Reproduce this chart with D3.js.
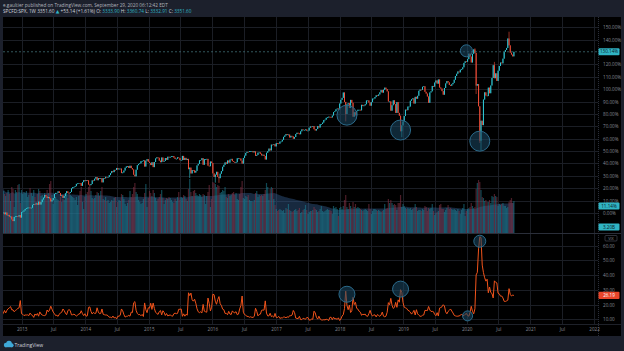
<!DOCTYPE html>
<html>
<head>
<meta charset="utf-8">
<script src="https://cdn.jsdelivr.net/npm/d3@7"></script>
<style>
html, body { margin: 0; padding: 0; background: #1c202c; }
svg { display: block; }
text { font-family: "Open Sans", "DejaVu Sans", sans-serif; }
</style>
</head>
<body>
<svg id="chart" width="624" height="351"></svg>
<script>
// weekly closes of SPX, one array per calendar year (last bar = week of Sep 28 2020)
const spx2012 = [1456,1460,1441,1461,1429,1433,1412,1414,1380,1360,1409,1416,1418,1414,1430,1402];
const spx2013 = [1466,1472,1486,1503,1513,1518,1520,1516,1518,1551,1561,1557,1569,1553,1589,1555,1583,1614,1634,1667,1650,1631,1643,1627,1592,1606,1632,1680,1692,1692,1710,1691,1656,1663,1633,1655,1688,1710,1692,1690,1703,1745,1760,1762,1771,1798,1804,1806,1805,1775,1818,1841];
const spx2014 = [1831,1842,1839,1790,1783,1797,1839,1836,1859,1878,1841,1866,1858,1865,1816,1865,1863,1881,1878,1878,1901,1924,1949,1936,1963,1961,1985,1968,1978,1978,1925,1932,1955,1988,2003,2008,1985,2011,1983,1968,1906,1887,1965,2018,2032,2040,2064,2068,2075,2002,2071,2089];
const spx2015 = [2058,2045,2019,2052,1995,2055,2097,2110,2105,2071,2053,2108,2061,2067,2102,2081,2117,2108,2116,2123,2126,2107,2092,2094,2110,2101,2077,2077,2127,2079,2104,2078,2092,1971,1989,1921,1961,1958,1931,1951,2015,2033,2075,2079,2100,2023,2089,2090,2092,2012,2006,2061];
const spx2016 = [2044,1922,1880,1907,1940,1880,1865,1918,1948,1999,2022,2050,2035,2073,2048,2083,2092,2065,2057,2047,2053,2099,2099,2096,2071,2037,2103,2130,2162,2175,2174,2183,2184,2184,2169,2180,2128,2139,2165,2168,2153,2133,2141,2126,2085,2164,2182,2213,2192,2260,2259,2264,2239];
const spx2017 = [2277,2275,2271,2295,2297,2316,2351,2367,2384,2373,2378,2344,2363,2356,2329,2349,2384,2399,2391,2382,2416,2439,2432,2433,2438,2423,2425,2459,2473,2472,2477,2441,2426,2443,2477,2461,2500,2502,2519,2549,2553,2575,2581,2588,2582,2579,2602,2642,2652,2675,2684,2674];
const spx2018 = [2743,2786,2810,2873,2762,2620,2732,2747,2691,2786,2752,2588,2641,2604,2656,2670,2670,2663,2728,2713,2721,2735,2779,2780,2755,2718,2760,2801,2802,2819,2840,2833,2850,2875,2902,2872,2905,2930,2914,2886,2767,2768,2659,2723,2781,2736,2633,2760,2633,2600,2417,2486];
const spx2019 = [2532,2596,2671,2665,2707,2708,2776,2793,2804,2743,2822,2800,2834,2893,2907,2905,2940,2946,2881,2860,2826,2752,2873,2887,2950,2942,2990,3014,2977,3026,2932,2919,2889,2847,2926,2979,3007,2992,2962,2952,2970,2986,3023,3067,3093,3120,3110,3141,3146,3169,3221,3240];
const spx2020 = [3235,3265,3330,3295,3226,3328,3380,3338,2954,2972,2711,2305,2541,2489,2790,2875,2837,2831,2930,2864,2955,3044,3194,3041,3098,3009,3130,3185,3225,3216,3271,3351,3373,3397,3508,3427,3341,3319,3298,3352];

// weeks where the high / low wick reaches well past the body
const wicks = [
  { week: "2015-08-24", low: 1867 },
  { week: "2016-01-18", low: 1812 },
  { week: "2016-02-08", low: 1810 },
  { week: "2018-02-05", low: 2533 },
  { week: "2018-12-24", low: 2347 },
  { week: "2020-02-17", high: 3393 },
  { week: "2020-02-24", low: 2855 },
  { week: "2020-03-16", low: 2280 },
  { week: "2020-03-23", low: 2192 },
  { week: "2020-06-08", high: 3233 },
  { week: "2020-08-31", high: 3588 }
];

// weekly volume, billions
const vol2012 = [4.6,4.2,3.9,3.7,4.0,4.3,3.9,3.2,4.6,4.4,2.6,4.3,4.1,4.8,4.9,3.0];
const vol2013 = [4.3,3.9,4.1,4.0,4.2,3.6,3.8,4.5,4.0,3.7,4.3,3.6,3.1,3.9,4.4,4.2,3.7,3.8,3.6,4.0,3.5,4.3,4.0,4.9,5.2,3.8,2.9,3.5,3.6,3.4,3.3,3.2,3.6,3.1,3.4,3.3,3.9,4.2,3.5,4.0,3.8,3.7,3.6,3.5,3.3,3.6,2.8,3.7,4.2,4.6,3.1,2.4];
const vol2014 = [3.6,3.9,4.1,4.6,4.8,4.2,3.5,3.4,3.5,3.8,4.1,4.0,3.7,4.2,4.6,3.4,3.3,3.6,3.2,3.3,3.0,3.1,3.3,3.2,3.5,3.6,2.6,3.1,3.3,3.2,3.9,3.8,3.4,2.9,2.7,3.0,3.3,4.2,3.6,3.9,4.6,5.0,4.1,3.9,3.3,3.1,2.9,3.0,3.4,4.0,4.9,2.6];
const vol2015 = [3.5,4.2,4.0,3.7,4.3,4.0,3.5,3.2,3.4,3.6,3.9,4.3,3.5,2.9,3.3,3.5,3.4,3.6,3.5,3.3,3.1,3.0,3.4,3.2,3.6,4.1,3.3,3.6,3.5,3.8,3.7,3.4,3.2,4.4,5.4,4.1,3.7,4.2,4.3,4.0,3.8,3.7,3.9,3.8,3.6,3.9,3.8,2.9,3.7,4.1,4.8,2.6];
const vol2016 = [3.4,5.1,5.0,4.9,4.6,4.8,4.7,4.0,4.1,4.3,4.2,4.6,3.6,3.5,3.9,3.7,3.8,4.0,4.1,3.8,4.0,3.4,3.3,3.9,4.6,5.2,3.5,3.4,3.7,3.6,3.8,3.3,3.2,3.2,3.1,3.3,4.0,4.2,3.6,3.8,3.7,3.8,3.7,3.9,4.3,5.0,4.6,3.3,4.4,4.6,4.5,3.4,2.8];
const vol2017 = [2.4,2.2,2.3,2.4,2.3,2.2,2.3,2.0,2.5,2.4,2.9,2.3,2.2,2.1,2.2,2.3,2.4,2.2,2.3,2.5,2.0,2.1,2.3,2.4,2.8,2.3,1.9,2.1,2.2,2.2,2.3,2.6,2.4,2.3,2.1,2.2,2.4,2.7,2.2,2.1,2.2,2.3,2.4,2.3,2.3,2.2,1.9,2.7,2.5,2.6,2.4,1.7];
const vol2018 = [2.5,2.6,2.4,2.7,3.3,3.8,2.6,2.4,3.0,2.7,2.5,3.1,2.6,2.9,2.5,2.6,2.5,2.4,2.3,2.2,2.3,2.4,2.3,2.2,2.9,2.4,1.9,2.2,2.4,2.4,2.3,2.2,2.3,2.2,2.1,2.2,2.3,2.9,2.4,2.5,3.4,3.0,3.3,3.0,2.8,2.9,2.8,2.3,3.0,3.0,3.8,2.6];
const vol2019 = [2.9,2.7,2.5,2.4,2.5,2.4,2.5,2.3,2.4,2.5,2.9,2.6,2.2,2.3,2.3,2.2,2.4,2.3,2.7,2.6,2.2,2.5,2.4,2.5,2.9,2.2,1.8,2.0,2.1,2.2,2.8,2.9,2.4,2.4,2.1,2.3,2.5,2.8,2.4,2.5,2.4,2.3,2.4,2.3,2.2,2.4,2.2,1.9,2.3,2.5,2.9,1.7];
const vol2020 = [2.2,2.4,2.5,2.6,3.0,2.7,2.5,2.6,4.4,5.0,5.3,5.1,4.3,3.6,3.5,3.2,3.3,3.1,3.1,3.3,3.0,3.7,3.6,3.9,3.7,3.6,2.7,2.9,2.8,2.9,3.0,2.7,2.7,2.5,2.6,3.1,3.3,3.5,3.0,3.2];

// weekly closes of VIX (lower pane)
const vix2012 = [14.6,13.9,16.0,14.3,16.1,17.1,17.8,18.6,16.4,16.4,15.1,16.0,16.6,17.4,17.8,22.7];
const vix2013 = [13.8,13.4,12.5,12.9,12.9,13.0,12.5,14.2,13.1,12.6,11.3,13.6,12.7,13.9,12.1,15.0,13.6,12.9,12.6,12.5,13.0,16.3,15.1,16.3,18.9,16.9,14.9,13.8,12.5,12.7,12.0,13.4,14.4,14.8,17.0,15.9,14.2,13.1,15.7,16.7,15.7,13.0,13.1,13.5,12.9,12.2,12.7,13.7,13.8,15.8,13.8,12.5];
const vix2014 = [13.8,12.1,12.4,18.1,18.4,15.3,13.6,14.7,14.0,14.1,17.8,15.0,13.8,14.0,17.0,13.4,13.1,12.9,12.9,12.4,11.4,11.4,11.0,12.2,10.9,11.3,10.3,12.1,12.1,12.7,17.0,15.8,13.2,11.5,12.0,12.1,12.7,12.1,14.9,14.6,21.2,22.0,16.1,14.0,13.1,13.3,12.4,13.3,11.9,21.1,16.5,14.5];
const vix2015 = [17.8,17.6,20.9,16.7,21.0,17.3,14.7,14.0,13.3,15.2,16.0,13.0,15.8,14.7,12.6,13.9,12.3,12.7,12.9,12.4,12.1,13.8,14.2,13.8,14.0,16.8,16.8,17.0,12.0,13.7,12.1,13.4,12.8,28.0,26.1,27.8,23.2,22.3,23.6,20.9,17.1,15.1,14.5,15.1,14.3,20.1,15.5,15.1,14.8,24.4,20.7,15.7];
const vix2016 = [18.2,27.0,26.7,22.3,20.2,23.4,25.4,20.5,19.4,16.9,16.5,14.0,14.0,13.1,15.4,13.6,13.2,15.7,14.7,14.4,15.2,13.1,13.5,17.0,19.4,25.8,14.8,13.2,12.7,12.0,11.9,11.4,11.7,11.3,11.3,12.0,17.5,15.4,12.3,13.3,13.5,16.1,16.3,16.2,22.5,14.2,12.3,12.3,14.1,11.8,12.2,11.4,14.0];
const vix2017 = [11.3,11.2,12.0,10.6,11.0,10.9,11.5,11.5,11.0,11.7,11.3,12.5,12.4,12.9,16.0,14.6,10.8,10.6,10.4,12.0,9.8,9.8,10.7,10.4,10.0,11.2,11.2,9.5,9.4,10.3,10.0,15.5,14.3,11.3,10.1,12.1,10.2,9.6,9.5,9.7,9.6,10.0,9.8,9.1,11.3,11.4,9.7,11.4,10.2,10.5,9.9,11.0];
const vix2018 = [9.2,10.2,12.2,13.1,17.3,29.1,19.5,16.5,19.6,14.6,15.8,24.9,20.0,21.5,17.4,16.9,15.4,14.8,12.7,13.4,13.2,13.5,12.2,12.0,13.8,16.1,13.4,12.2,12.9,13.0,11.6,13.2,12.6,12.0,12.9,14.9,12.1,11.7,12.1,14.8,21.3,19.9,24.2,19.5,17.4,18.1,21.5,18.1,23.2,21.6,30.1,28.3];
const vix2019 = [21.4,18.2,17.8,17.4,16.1,15.7,14.9,13.5,14.6,16.1,12.9,16.5,13.7,12.8,12.0,12.1,12.7,12.9,16.0,16.0,15.9,18.7,16.3,15.3,15.4,15.1,13.3,12.4,14.5,12.2,17.6,18.0,18.5,19.9,19.0,15.0,13.7,15.3,16.1,17.0,15.6,14.3,12.7,12.3,12.1,12.1,12.3,12.6,13.6,12.6,12.5,13.4];
const vix2020 = [14.0,12.6,12.1,14.6,18.8,15.5,13.7,17.1,40.1,41.9,57.8,66.0,65.5,46.8,41.7,38.2,35.9,37.2,28.0,31.9,28.2,27.5,24.5,36.1,35.1,34.7,27.7,27.3,25.7,25.8,24.5,22.2,22.1,22.5,23.0,30.8,26.9,25.8,26.4,26.2];

// axis ticks
const pctTicks = [0,10,20,30,40,50,60,70,80,90,100,110,120,140,150];
const vixTicks = [10,20,30,40,50,60];

// highlighted circles drawn on the chart
const priceCircles = [
  { week: "2018-02-12", pct: 79, r: 10 },
  { week: "2018-12-17", pct: 67, r: 10 },
  { week: "2020-03-16", pct: 58, r: 10 },
  { week: "2019-12-30", pct: 131, r: 6 }
];
const vixCircles = [
  { week: "2018-02-12", v: 27, r: 8 },
  { week: "2018-12-17", v: 30.5, r: 8 },
  { week: "2020-03-16", v: 63, r: 6 },
  { week: "2020-01-06", v: 12.3, r: 5 }
];

const spx = [...spx2012, ...spx2013, ...spx2014, ...spx2015, ...spx2016, ...spx2017, ...spx2018, ...spx2019, ...spx2020];
const volume = [...vol2012, ...vol2013, ...vol2014, ...vol2015, ...vol2016, ...vol2017, ...vol2018, ...vol2019, ...vol2020];
const vix = [...vix2012, ...vix2013, ...vix2014, ...vix2015, ...vix2016, ...vix2017, ...vix2018, ...vix2019, ...vix2020];

const parseDay = d3.timeParse("%Y-%m-%d");
const lastWeek = parseDay("2020-09-28");
const n = spx.length;
const base = spx[0];

const bars = spx.map((c, i) => {
  const open = i ? spx[i - 1] : c;
  return {
    date: d3.timeDay.offset(lastWeek, -7 * (n - 1 - i)),
    open: open, close: c,
    high: Math.max(open, c), low: Math.min(open, c),
    vol: volume[i], vix: vix[i]
  };
});
wicks.forEach(w => {
  const b = bars.find(b => +b.date === +parseDay(w.week));
  if (!b) return;
  if (w.high) b.high = w.high;
  if (w.low) b.low = w.low;
});
// 52 week average of volume
bars.forEach((b, i) => {
  b.ma = d3.mean(bars.slice(Math.max(0, i - 51), i + 1), d => d.vol);
});
const pct = v => (v / base - 1) * 100;

const svg = d3.select("#chart");
const plotL = 3, plotR = 598, plotT = 17, mainB = 233, lowT = 234, lowB = 324, axisB = 336;

const x = d3.scaleTime()
  .domain([new Date(2013, 0, 1), new Date(2022, 0, 1)])
  .range([21.7, 594]);
const yPct = d3.scaleLinear().domain([-16.2, 157.5]).range([mainB, 18]);
const yVol = d3.scaleLinear().domain([0, 6]).range([mainB, 173]);
const yVix = d3.scaleLinear().domain([6.8, 67.9]).range([lowB, lowT]);

// frame
svg.append("rect").attr("width", 624).attr("height", 351).attr("fill", "#1c202c");
svg.append("rect").attr("x", plotL).attr("y", plotT).attr("width", 621 - plotL).attr("height", axisB - plotT).attr("fill", "#000");

const defs = svg.append("defs");
defs.append("clipPath").attr("id", "clipMain").append("rect")
  .attr("x", plotL).attr("y", plotT).attr("width", plotR - plotL).attr("height", mainB - plotT);
defs.append("clipPath").attr("id", "clipLow").append("rect")
  .attr("x", plotL).attr("y", lowT).attr("width", plotR - plotL).attr("height", lowB - lowT);

// grid
const timeTicks = d3.timeMonth.every(6).range(new Date(2013, 0, 1), new Date(2022, 0, 2));
const grid = svg.append("g").attr("stroke", "#1b1e25").attr("stroke-width", 1);
grid.selectAll(".vg").data(timeTicks).join("line")
  .attr("x1", d => Math.round(x(d)) + 0.5).attr("x2", d => Math.round(x(d)) + 0.5)
  .attr("y1", plotT).attr("y2", lowB);
grid.selectAll(".hg").data(pctTicks).join("line")
  .attr("x1", plotL).attr("x2", plotR)
  .attr("y1", d => Math.round(yPct(d)) + 0.5).attr("y2", d => Math.round(yPct(d)) + 0.5);
grid.selectAll(".hv").data(vixTicks).join("line")
  .attr("x1", plotL).attr("x2", plotR)
  .attr("y1", d => Math.round(yVix(d)) + 0.5).attr("y2", d => Math.round(yVix(d)) + 0.5);

// separators
svg.append("line").attr("x1", plotL).attr("x2", 621).attr("y1", 233.5).attr("y2", 233.5).attr("stroke", "#2a2e39");
svg.append("line").attr("x1", plotL).attr("x2", 621).attr("y1", 324.5).attr("y2", 324.5).attr("stroke", "#1e2129");
svg.append("line").attr("x1", plotR + 0.5).attr("x2", plotR + 0.5).attr("y1", plotT).attr("y2", axisB)
  .attr("stroke", "#2a2e39").attr("stroke-dasharray", "1,1");

// volume
const main = svg.append("g").attr("clip-path", "url(#clipMain)");
main.append("path").datum(bars)
  .attr("fill", "rgba(52,92,140,0.45)")
  .attr("d", d3.area().x(d => x(d.date)).y0(mainB).y1(d => yVol(d.ma)));
main.selectAll(".vol").data(bars).join("rect")
  .attr("x", d => x(d.date) - 0.6).attr("width", 1.2)
  .attr("y", d => yVol(d.vol)).attr("height", d => mainB - yVol(d.vol))
  .attr("fill", d => d.close >= d.open ? "rgba(30,132,152,0.55)" : "rgba(140,52,72,0.55)");

// current price line
const lastPct = pct(spx[n - 1]);
svg.append("line").attr("x1", plotL).attr("x2", plotR)
  .attr("y1", yPct(lastPct)).attr("y2", yPct(lastPct))
  .attr("stroke", "#3f6d74").attr("stroke-width", 0.8).attr("stroke-dasharray", "2,2");

// candles
const upColor = "#2fc6d4", downColor = "#f04d38";
main.selectAll(".wick").data(bars).join("line")
  .attr("x1", d => x(d.date)).attr("x2", d => x(d.date))
  .attr("y1", d => yPct(pct(d.high))).attr("y2", d => yPct(pct(d.low)))
  .attr("stroke", d => d.close >= d.open ? upColor : downColor).attr("stroke-width", 0.6);
main.selectAll(".body").data(bars).join("rect")
  .attr("x", d => x(d.date) - 0.5).attr("width", 1)
  .attr("y", d => yPct(pct(Math.max(d.open, d.close))))
  .attr("height", d => Math.max(0.8, Math.abs(yPct(pct(d.open)) - yPct(pct(d.close)))))
  .attr("fill", d => d.close >= d.open ? upColor : downColor);

// VIX line
const lowPane = svg.append("g").attr("clip-path", "url(#clipLow)");
lowPane.append("path").datum(bars)
  .attr("fill", "none").attr("stroke", "#f2541b").attr("stroke-width", 1)
  .attr("d", d3.line().x(d => x(d.date)).y(d => yVix(d.vix)));

// highlight circles
const circleStyle = sel => sel
  .attr("fill", "rgba(28,72,100,0.55)").attr("stroke", "#2b6a8a").attr("stroke-width", 1);
svg.selectAll(".pc").data(priceCircles).join("circle")
  .attr("cx", d => x(parseDay(d.week))).attr("cy", d => yPct(d.pct)).attr("r", d => d.r)
  .call(circleStyle);
svg.selectAll(".vc").data(vixCircles).join("circle")
  .attr("cx", d => x(parseDay(d.week))).attr("cy", d => yVix(d.v)).attr("r", d => d.r)
  .call(circleStyle);

// axes
const styleAxis = g => {
  g.select(".domain").remove();
  g.selectAll("line").remove();
  g.selectAll("text").attr("fill", "#868993").attr("font-size", 4.6)
    .attr("font-family", "'Open Sans', 'DejaVu Sans', sans-serif");
};
svg.append("g").attr("transform", `translate(${plotR},0)`)
  .call(d3.axisRight(yPct).tickValues(pctTicks).tickSize(0).tickPadding(5)
    .tickFormat(d => d.toFixed(2) + "%"))
  .call(styleAxis);
svg.append("g").attr("transform", `translate(${plotR},0)`)
  .call(d3.axisRight(yVix).tickValues(vixTicks).tickSize(0).tickPadding(5)
    .tickFormat(d => d.toFixed(2)))
  .call(styleAxis);
svg.append("g").attr("transform", `translate(0,${lowB})`)
  .call(d3.axisBottom(x).tickValues(timeTicks).tickSize(0).tickPadding(4)
    .tickFormat(d => d.getMonth() === 0 ? d3.timeFormat("%Y")(d) : "Jul"))
  .call(styleAxis);

// value labels on the right scale
const tag = (y, text, fill, color) => {
  svg.append("rect").attr("x", plotR + 0.5).attr("y", y - 3.6).attr("width", 21).attr("height", 7.2)
    .attr("rx", 1).attr("fill", fill);
  svg.append("text").attr("x", plotR + 11).attr("y", y + 1.6).attr("text-anchor", "middle")
    .attr("font-size", 4.6).attr("fill", color).text(text);
};
tag(yPct(lastPct), "130.14%", "#30b4c4", "#0b1a1e");
tag(206, "11.14%", "#30b4c4", "#0b1a1e");
tag(227, "3.20B", "#30b4c4", "#0b1a1e");
tag(yVix(vix[n - 1]), "26.19", "#e8452a", "#fff");

svg.append("rect").attr("x", 605).attr("y", 235.5).attr("width", 12).attr("height", 5.5)
  .attr("rx", 1).attr("fill", "none").attr("stroke", "#5d6170").attr("stroke-width", 0.5);
svg.append("text").attr("x", 611).attr("y", 239.7).attr("text-anchor", "middle")
  .attr("font-size", 3.8).attr("fill", "#868993").text("VIX");

// header
const head = svg.append("g").attr("font-size", 4.7);
head.append("text").attr("x", 3).attr("y", 7.3).attr("fill", "#b2b5be")
  .text("e.gaultier published on TradingView.com, September 29, 2020 06:12:42 EDT");
const l2 = head.append("text").attr("x", 3).attr("y", 13.4).attr("fill", "#d1d4dc");
l2.append("tspan").text("SPCFD:SPX, 1W  3351.60 ");
l2.append("tspan").attr("fill", "#30b4c4").text("▲");
l2.append("tspan").text(" +53.14 (+1.61%)  O: ");
l2.append("tspan").attr("fill", "#30b4c4").text("3333.90");
l2.append("tspan").text(" H: ");
l2.append("tspan").attr("fill", "#30b4c4").text("3360.74");
l2.append("tspan").text(" L: ");
l2.append("tspan").attr("fill", "#30b4c4").text("3332.91");
l2.append("tspan").text(" C: ");
l2.append("tspan").attr("fill", "#30b4c4").text("3351.60");

// footer logo
const logo = svg.append("g").attr("fill", "#3fa9d8");
logo.append("circle").attr("cx", 6).attr("cy", 345).attr("r", 2.2);
logo.append("circle").attr("cx", 9).attr("cy", 343.6).attr("r", 2.8);
logo.append("circle").attr("cx", 11.6).attr("cy", 345.2).attr("r", 2);
logo.append("rect").attr("x", 5).attr("y", 345).attr("width", 7.5).attr("height", 2.2);
svg.append("text").attr("x", 14.5).attr("y", 347).attr("font-size", 5).attr("fill", "#d1d4dc").text("TradingView");
</script>
</body>
</html>
